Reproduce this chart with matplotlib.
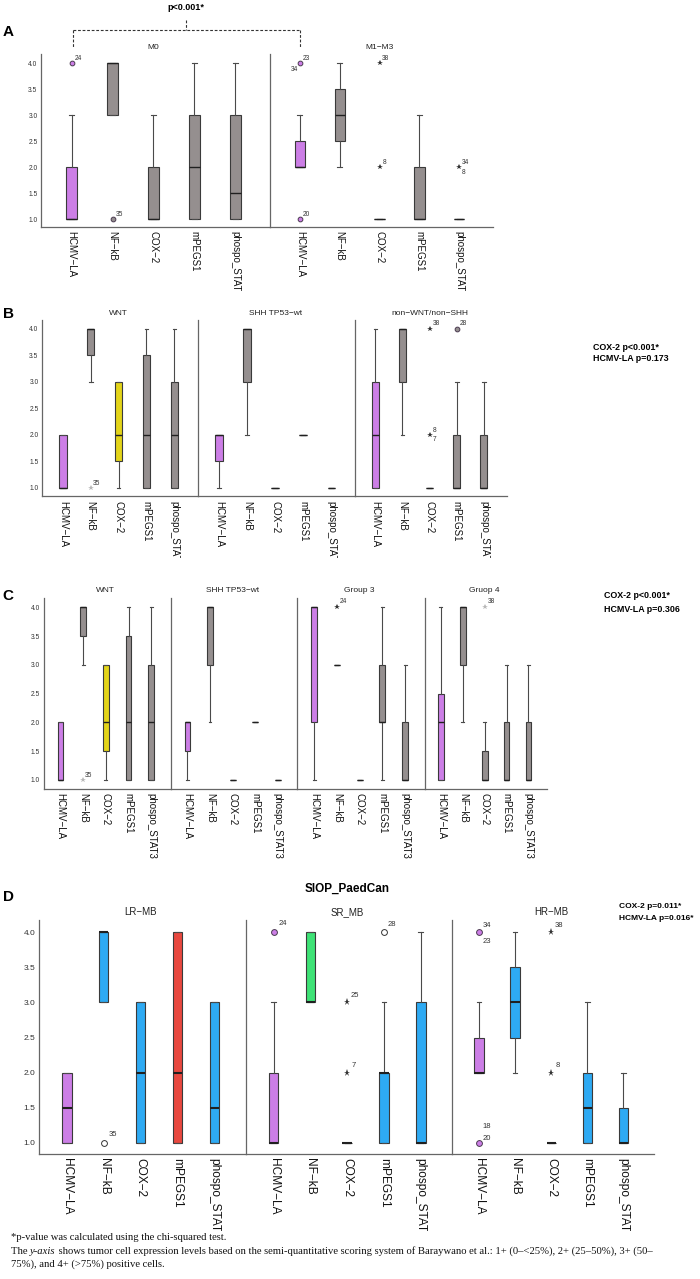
import matplotlib
matplotlib.use('Agg')
import matplotlib.pyplot as plt
from matplotlib.lines import Line2D
from matplotlib.transforms import Bbox, TransformedBbox

plt.rcParams['font.family'] = ['Liberation Sans', 'DejaVu Sans']

W, H = 700, 1279

markers = ['HCMV−LA', 'NF−kB', 'COX−2', 'mPEGS1', 'phospo_STAT3']
yticks = [1.0, 1.5, 2.0, 2.5, 3.0, 3.5, 4.0]

# box stats per marker: (whisker low, q1, median, q3, whisker high)
a_groups = ['M0', 'M1−M3']
a_m0 = [(1, 1, 1, 2, 3), (3, 3, 4, 4, 4), (1, 1, 1, 2, 3), (1, 1, 2, 3, 4), (1, 1, 1.5, 3, 4)]
a_m13 = [(2, 2, 2, 2.5, 3), (2, 2.5, 3, 3.5, 4), (1, 1, 1, 1, 1), (1, 1, 1, 2, 3), (1, 1, 1, 1, 1)]
# outliers: (group, marker, value, kind, case ids)
a_out = [(0, 0, 4, 'o', ['24']), (0, 1, 1, 'o', ['35']),
         (1, 0, 4, 'o', ['23', '34']), (1, 0, 1, 'o', ['20']),
         (1, 2, 4, '*', ['38']), (1, 2, 2, '*', ['8']), (1, 4, 2, '*', ['34', '8'])]
a_p = 'p<0.001*'

b_groups = ['WNT', 'SHH TP53−wt', 'non−WNT/non−SHH']
b_wnt = [(1, 1, 1, 2, 2), (3, 3.5, 4, 4, 4), (1, 1.5, 2, 3, 3), (1, 1, 2, 3.5, 4), (1, 1, 2, 3, 4)]
b_shh = [(1, 1.5, 2, 2, 2), (2, 3, 4, 4, 4), (1, 1, 1, 1, 1), (2, 2, 2, 2, 2), (1, 1, 1, 1, 1)]
b_non = [(1, 1, 2, 3, 4), (2, 3, 4, 4, 4), (1, 1, 1, 1, 1), (1, 1, 1, 2, 3), (1, 1, 1, 2, 3)]
b_out = [(0, 1, 1, 'faint', ['35']), (2, 2, 4, '*', ['38']), (2, 2, 2, '*', ['8', '7']),
         (2, 3, 4, 'o', ['28'])]
b_p = ['COX-2 p<0.001*', 'HCMV-LA p=0.173']

c_groups = ['WNT', 'SHH TP53−wt', 'Group 3', 'Gruop 4']
c_wnt = [(1, 1, 1, 2, 2), (3, 3.5, 4, 4, 4), (1, 1.5, 2, 3, 3), (1, 1, 2, 3.5, 4), (1, 1, 2, 3, 4)]
c_shh = [(1, 1.5, 2, 2, 2), (2, 3, 4, 4, 4), (1, 1, 1, 1, 1), (2, 2, 2, 2, 2), (1, 1, 1, 1, 1)]
c_g3 = [(1, 2, 4, 4, 4), (3, 3, 3, 3, 3), (1, 1, 1, 1, 1), (1, 2, 2, 3, 4), (1, 1, 1, 2, 3)]
c_g4 = [(1, 1, 2, 2.5, 4), (2, 3, 4, 4, 4), (1, 1, 1, 1.5, 2), (1, 1, 1, 2, 3), (1, 1, 1, 2, 3)]
c_out = [(0, 1, 1, 'faint', ['35']), (2, 1, 4, '*', ['24']), (3, 2, 4, 'faint', ['38'])]
c_p = ['COX-2 p<0.001*', 'HCMV-LA p=0.306']

d_title = 'SIOP_PaedCan'
d_groups = ['LR−MB', 'SR_MB', 'HR−MB']
d_lr = [(1, 1, 1.5, 2, 2), (3, 3, 4, 4, 4), (1, 1, 2, 3, 3), (1, 1, 2, 4, 4), (1, 1, 1.5, 3, 3)]
d_sr = [(1, 1, 1, 2, 3), (3, 3, 3, 4, 4), (1, 1, 1, 1, 1), (1, 1, 2, 2, 3), (1, 1, 1, 3, 4)]
d_hr = [(2, 2, 2, 2.5, 3), (2, 2.5, 3, 3.5, 4), (1, 1, 1, 1, 1), (1, 1, 1.5, 2, 3), (1, 1, 1, 1.5, 2)]
d_out = [(0, 1, 1, 'open', ['35']), (1, 0, 4, 'o', ['24']), (1, 2, 3, '*', ['25']),
         (1, 2, 2, '*', ['7']), (1, 3, 4, 'open', ['28']),
         (2, 0, 4, 'o', ['34', '23']), (2, 0, 1, 'o', ['20', '18']),
         (2, 2, 4, '*', ['38']), (2, 2, 2, '*', ['8'])]
d_p = ['COX-2 p=0.011*', 'HCMV-LA p=0.016*']

# ---- styles ----
P, G, Y = '#cc7ee6', '#958f8f', '#e3d419'
B, R, GR = '#2eaaf3', '#e8483f', '#3ee276'
EDGE = '#3a3a3a'

a_fill = [[P, G, G, G, G], [P, G, G, G, G]]
b_fill = [[P, G, Y, G, G], [P, G, G, G, G], [P, G, G, G, G]]
c_fill = [[P, G, Y, G, G], [P, G, G, G, G], [P, G, G, G, G], [P, G, G, G, G]]
d_fill = [[P, B, B, R, B], [P, GR, B, B, B], [P, B, B, B, B]]

# label offsets (points) for the outlier case ids
a_offs = [[(2, 3.5)], [(2, 3.5)], [(2, 3.5), (-1.5, -4.5)], [(2, 3.5)],
          [(2, 3.5)], [(2, 3.5)], [(2, 3.5), (2, -3.8)]]
b_offs = [[(1.5, 3.5)], [(2, 3.5)], [(2, 3.5), (2, -3.5)], [(2, 3.5)]]
c_offs = [[(1.5, 3.5)], [(2, 4)], [(2, 4)]]
d_offs = [[(3.5, 6)], [(3.3, 6)], [(2.5, 5)], [(3, 5)], [(2.5, 5.5)],
          [(2.5, 5), (2.5, -6.5)], [(2.5, 3), (2.5, 12)], [(2.5, 5)], [(3, 5)]]

fig = plt.figure(figsize=(W / 100, H / 100), dpi=100)


def fx(x):
    return x / W


def fy(y):
    return 1 - y / H


def draw_panel(edges, y4, y1, groups, stats, fills, outs, offs, tick_fs, ytick_fs,
               title_fs, lab_fs, clip_y=None, big=False):
    s = (y1 - y4) / 3
    bot = y1 + 0.16 * s
    top = y4 - 0.17 * s
    for i, (name, boxes, cols) in enumerate(zip(groups, stats, fills)):
        xl, xr = edges[i], edges[i + 1]
        ax = fig.add_axes([fx(xl), fy(bot), (xr - xl) / W, (bot - top) / H])
        bstats = [dict(whislo=b[0], q1=b[1], med=b[2], q3=b[3], whishi=b[4], fliers=[])
                  for b in boxes]
        lw_med = 1.5 if big else 1.0
        bp = ax.bxp(bstats, positions=range(len(boxes)), widths=0.26, capwidths=0.13,
                    patch_artist=True, showfliers=False, manage_ticks=False,
                    boxprops=dict(edgecolor=EDGE, linewidth=0.8),
                    whiskerprops=dict(color='#4a4a4a', linewidth=0.8),
                    capprops=dict(color='#4a4a4a', linewidth=0.8),
                    medianprops=dict(color='#202020', linewidth=lw_med))
        for patch, c in zip(bp['boxes'], cols):
            patch.set_facecolor(c)

        for (g, k, v, kind, ids), off in zip(outs, offs):
            if g != i:
                continue
            ms = 4.2 if big else 3.4
            if kind == 'o':
                ax.plot(k, v, 'o', ms=ms, mfc=cols[k], mec='#4a3a50', mew=0.7)
            elif kind == 'open':
                ax.plot(k, v, 'o', ms=ms, mfc='white', mec='#333333', mew=0.7)
            elif kind == '*':
                ax.plot(k, v, '*', ms=ms + 1, color='#333333', mew=0)
            else:
                ax.plot(k, v, '*', ms=ms + 1, color='#b8b8b8', mew=0)
            for cid, (dx, dy) in zip(ids, off):
                ax.annotate(cid, xy=(k, v), xytext=(dx, dy), textcoords='offset points',
                            fontsize=lab_fs, color='#333333', va='center',
                            ha='left' if dx >= 0 else 'right')

        ax.set_xlim(-0.75, 4.85)
        ax.set_ylim(0.84, 4.17)
        for sp in ['top', 'right']:
            ax.spines[sp].set_visible(False)
        for sp in ['left', 'bottom']:
            ax.spines[sp].set_color('#666666')
            ax.spines[sp].set_linewidth(0.9)
        ax.set_yticks(yticks)
        ax.set_yticklabels(['%.1f' % t for t in yticks])
        ax.set_xticks(range(len(markers)))
        ax.set_xticklabels(markers, rotation=270, ha='center', va='top')
        ax.tick_params(axis='both', length=0)
        ax.tick_params(axis='y', labelsize=ytick_fs, pad=2.5, labelcolor='#333333')
        ax.tick_params(axis='x', labelsize=tick_fs, pad=3, labelcolor='#111111')
        if i > 0:
            ax.tick_params(axis='y', labelleft=False)
        ax.annotate(name, xy=(2, 1), xycoords=('data', 'axes fraction'), xytext=(0, 2.2),
                    textcoords='offset points', ha='center', va='bottom',
                    fontsize=title_fs, color='#222222')
        if clip_y is not None:
            box = TransformedBbox(Bbox.from_extents(0, fy(clip_y), 1, fy(bot)), fig.transFigure)
            for lab in ax.get_xticklabels():
                lab.set_clip_box(box)
                lab.set_clip_on(True)


# Panel A
draw_panel([41, 270, 493], 63.3, 219, a_groups, [a_m0, a_m13], a_fill, a_out, a_offs,
           7, 4.8, 6, 4.8, clip_y=291)
fig.text(fx(8), fy(32), 'A', fontsize=11, fontweight='bold', ha='center', va='center')
fig.text(fx(186), fy(7), a_p, fontsize=6.5, fontweight='bold', ha='center', va='center')
dash = dict(color='#333333', lw=0.8, ls=(0, (2.5, 1.6)))
for xs, ys in [([73, 300], [30, 30]), ([73, 73], [30, 47]), ([300, 300], [30, 47]),
               ([186, 186], [20, 30])]:
    fig.add_artist(Line2D([fx(x) for x in xs], [fy(y) for y in ys], **dash))

# Panel B
draw_panel([42, 198, 355, 507], 328.7, 488, b_groups, [b_wnt, b_shh, b_non], b_fill,
           b_out, b_offs, 7, 4.8, 6, 4.8, clip_y=558)
fig.text(fx(8), fy(314), 'B', fontsize=11, fontweight='bold', ha='center', va='center')
for j, t in enumerate(b_p):
    fig.text(fx(593), fy(347 + 12 * j), t, fontsize=6.4, fontweight='bold', ha='left', va='center')

# Panel C
draw_panel([43.5, 170.5, 297, 424.5, 547], 607.3, 780, c_groups, [c_wnt, c_shh, c_g3, c_g4],
           c_fill, c_out, c_offs, 7, 4.8, 6, 4.8)
fig.text(fx(8), fy(596), 'C', fontsize=11, fontweight='bold', ha='center', va='center')
for j, t in enumerate(c_p):
    fig.text(fx(604), fy(596 + 13 * j), t, fontsize=6.4, fontweight='bold', ha='left', va='center')

# Panel D
draw_panel([39, 246, 452, 654], 932.3, 1142.7, d_groups, [d_lr, d_sr, d_hr], d_fill,
           d_out, d_offs, 8.6, 6, 7, 5.5, clip_y=1231, big=True)
fig.text(fx(8), fy(897), 'D', fontsize=11, fontweight='bold', ha='center', va='center')
fig.text(fx(347), fy(889), d_title, fontsize=8.5, fontweight='bold', ha='center', va='center')
for j, t in enumerate(d_p):
    fig.text(fx(619), fy(907 + 12 * j), t, fontsize=6, fontweight='bold', ha='left', va='center')

# footnote
serif = dict(family='Liberation Serif', fontsize=7.7, va='center', color='#111111')
fig.text(fx(11), fy(1237), '*p-value was calculated using the chi-squared test.', **serif)
renderer = fig.canvas.get_renderer()
x0 = fx(11)
for part, style in [('The ', 'normal'), ('y-axis', 'italic'),
                    (' shows tumor cell expression levels based on the semi-quantitative '
                     'scoring system of Baraywano et al.: 1+ (0–<25%), 2+ (25–50%), 3+ (50–',
                     'normal')]:
    t = fig.text(x0, fy(1251), part, style=style, **serif)
    x0 += t.get_window_extent(renderer).width / W
fig.text(fx(11), fy(1264), '75%), and 4+ (>75%) positive cells.', **serif)

fig.savefig('out.png', dpi=100)
